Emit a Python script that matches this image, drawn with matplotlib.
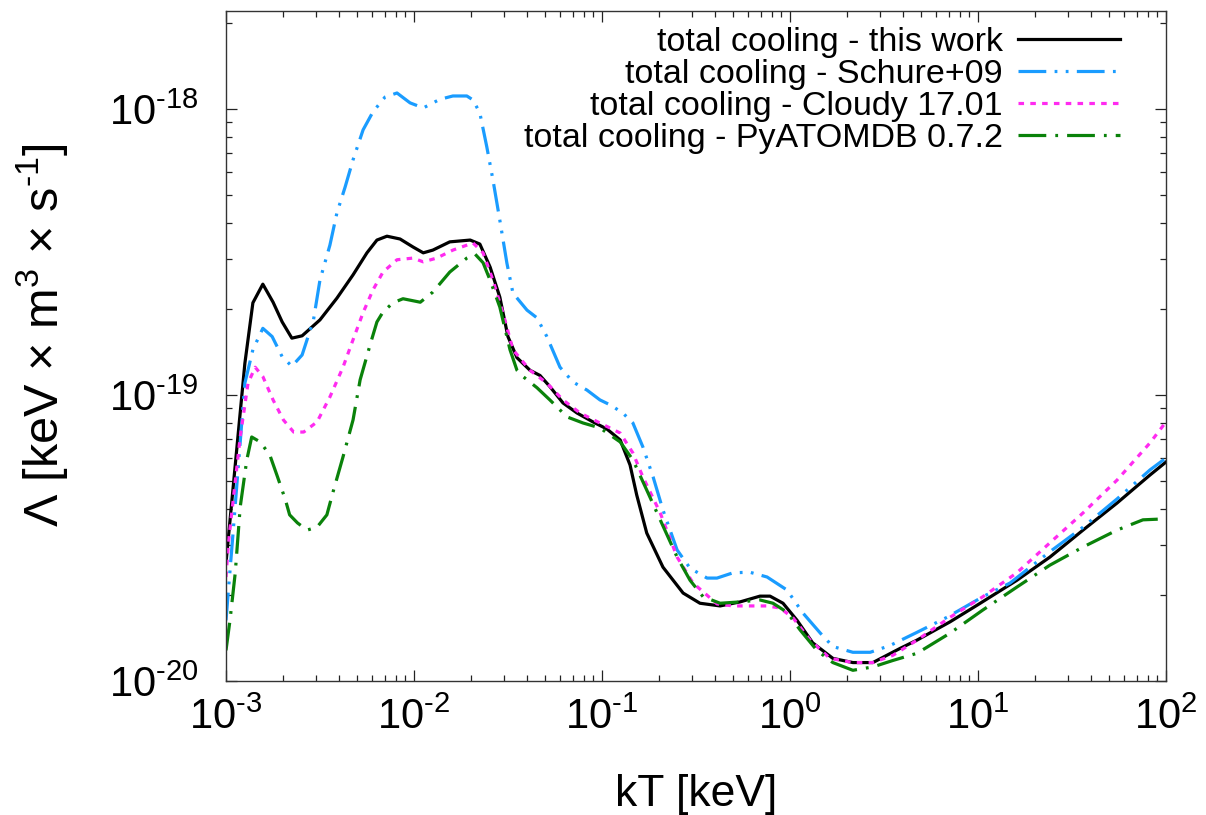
#!/usr/bin/env python3
"""Total cooling function comparison, redrawn as out.png."""

import matplotlib
matplotlib.use("Agg")
import matplotlib.pyplot as plt
from matplotlib.ticker import FixedLocator, FuncFormatter, LogLocator, NullFormatter
import numpy as np

plt.rcParams["font.family"] = ["Liberation Sans", "DejaVu Sans"]
plt.rcParams["mathtext.fontset"] = "custom"
plt.rcParams["mathtext.rm"] = "Liberation Sans"
plt.rcParams["mathtext.it"] = "Liberation Sans:italic"
plt.rcParams["lines.scale_dashes"] = False

UNIT = 1e-20  # Lambda values below are in units of 1e-20 keV m^3 s^-1

X_TICKS = [1e-3, 1e-2, 1e-1, 1e0, 1e1, 1e2]
Y_TICKS = [1e-20, 1e-19, 1e-18]

kt_this = [1.0e-3, 1.26e-3, 1.39e-3, 1.57e-3, 1.78e-3, 1.99e-3, 2.24e-3, 2.54e-3, 3.16e-3,
           3.89e-3, 4.74e-3, 5.62e-3, 6.35e-3, 7.18e-3, 8.43e-3, 9.89e-3, 1.12e-2, 1.26e-2,
           1.55e-2, 1.99e-2, 2.24e-2, 2.54e-2, 2.86e-2, 3.16e-2, 3.53e-2, 4.14e-2, 4.68e-2,
           5.28e-2, 6.20e-2, 7.36e-2, 8.95e-2, 0.106, 0.125, 0.141, 0.153, 0.173, 0.211,
           0.270, 0.332, 0.425, 0.542, 0.692, 0.783, 0.918, 1.09, 1.32, 1.69, 2.16, 2.76,
           3.85, 4.74, 7.10, 9.88, 16.1, 24.1, 36.2, 54.9, 82.2, 100.0]
lam_this = [2.59, 12.9, 21.0, 24.4, 21.1, 18.0, 15.8, 16.1, 18.3,
            21.8, 26.3, 31.4, 34.8, 35.9, 35.1, 32.9, 31.4, 32.1,
            34.3, 34.8, 33.7, 28.0, 22.0, 16.0, 13.5, 12.2, 11.7,
            10.7, 9.38, 8.65, 8.05, 7.61, 6.96, 5.69, 4.47, 3.29, 2.50,
            2.03, 1.87, 1.83, 1.89, 1.98, 1.98, 1.87, 1.63, 1.36, 1.20, 1.16, 1.16,
            1.30, 1.39, 1.61, 1.84, 2.25, 2.71, 3.37, 4.19, 5.25, 5.83]

kt_schure = [1.0e-3, 1.09e-3, 1.26e-3, 1.39e-3, 1.57e-3, 1.76e-3, 1.99e-3, 2.24e-3, 2.54e-3,
             2.92e-3, 3.16e-3, 3.57e-3, 3.89e-3, 4.30e-3, 4.74e-3, 5.36e-3, 6.05e-3, 7.01e-3,
             8.12e-3, 9.53e-3, 1.12e-2, 1.37e-2, 1.61e-2, 1.91e-2, 2.06e-2, 2.24e-2, 2.44e-2,
             2.63e-2, 2.86e-2, 3.12e-2, 3.36e-2, 3.99e-2, 4.51e-2, 5.09e-2, 5.98e-2, 7.01e-2,
             8.32e-2, 9.75e-2, 0.111, 0.129, 0.146, 0.165, 0.187, 0.211, 0.251, 0.294, 0.362,
             0.409, 0.498, 0.612, 0.755, 0.964, 1.17, 1.45, 1.69, 2.16, 2.67, 3.40, 4.74,
             6.84, 10.6, 14.8, 24.1, 36.2, 54.9, 82.2, 100.0]
lam_schure = [1.63, 3.29, 11.0, 14.4, 17.1, 16.0, 13.6, 12.6, 13.8,
              18.3, 25.2, 33.4, 43.3, 53.3, 66.4, 84.5, 97.7, 110.0,
              113.7, 105.0, 100.8, 108.0, 111.0, 111.0, 107.5, 96.8, 73.6,
              56.5, 40.9, 28.9, 22.7, 19.8, 18.6, 16.0, 12.5, 11.1,
              10.4, 9.61, 9.22, 8.65, 7.98, 6.58, 5.17, 3.96, 2.87, 2.48, 2.29,
              2.29, 2.39, 2.40, 2.31, 2.08, 1.73, 1.47, 1.32, 1.26, 1.26, 1.33, 1.48,
              1.67, 1.97, 2.20, 2.83, 3.45, 4.33, 5.47, 6.02]

kt_cloudy = [1.0e-3, 1.03e-3, 1.19e-3, 1.31e-3, 1.43e-3, 1.57e-3, 1.78e-3, 2.02e-3, 2.29e-3,
             2.59e-3, 3.05e-3, 3.57e-3, 4.19e-3, 4.74e-3, 5.36e-3, 6.05e-3, 6.84e-3, 8.12e-3,
             9.89e-3, 1.12e-2, 1.32e-2, 1.61e-2, 2.06e-2, 2.33e-2, 2.63e-2, 2.97e-2, 3.36e-2,
             4.14e-2, 5.09e-2, 6.20e-2, 7.64e-2, 9.75e-2, 0.125, 0.146, 0.165, 0.204, 0.251,
             0.305, 0.409, 0.498, 0.755, 0.885, 1.04, 1.28, 1.63, 2.16, 2.76, 3.53, 4.74,
             7.10, 10.6, 16.1, 24.1, 36.2, 54.9, 82.2, 100.0]
lam_cloudy = [2.31, 3.04, 7.13, 11.0, 12.5, 11.6, 9.61, 8.18, 7.42,
              7.42, 8.05, 9.84, 12.5, 15.6, 19.4, 23.3, 26.9, 29.7,
              30.1, 29.2, 30.1, 32.1, 34.0, 31.4, 25.2, 19.4, 14.4,
              12.2, 11.0, 9.61, 8.65, 7.98, 7.36, 6.27, 5.17, 3.87, 2.71,
              2.20, 1.86, 1.83, 1.83, 1.80, 1.66, 1.39, 1.20, 1.16, 1.16, 1.23, 1.39,
              1.67, 1.97, 2.39, 3.04, 3.87, 5.04, 6.80, 8.05]

kt_atomdb = [1.0e-3, 1.05e-3, 1.12e-3, 1.19e-3, 1.29e-3, 1.37e-3, 1.52e-3, 1.71e-3, 1.88e-3,
             2.07e-3, 2.18e-3, 2.40e-3, 2.70e-3, 3.05e-3, 3.44e-3, 3.71e-3, 4.19e-3, 4.74e-3,
             5.17e-3, 5.88e-3, 6.35e-3, 6.84e-3, 7.73e-3, 8.74e-3, 1.08e-2, 1.26e-2, 1.55e-2,
             1.91e-2, 2.11e-2, 2.33e-2, 2.54e-2, 2.86e-2, 3.24e-2, 3.53e-2, 3.80e-2, 4.51e-2,
             5.28e-2, 6.52e-2, 7.93e-2, 9.75e-2, 0.125, 0.146, 0.173, 0.204, 0.251, 0.294,
             0.345, 0.425, 0.542, 0.692, 0.812, 0.964, 1.13, 1.39, 1.69, 2.16, 2.76, 3.53,
             4.74, 7.10, 10.6, 16.1, 24.1, 36.2, 54.9, 75.4, 100.0]
lam_atomdb = [1.28, 1.63, 2.39, 4.06, 5.93, 7.13, 6.85, 6.17, 5.17,
              4.30, 3.81, 3.57, 3.37, 3.45, 3.81, 4.58, 6.07, 8.18,
              11.3, 15.2, 18.0, 19.5, 21.0, 21.7, 21.1, 22.9, 26.9,
              30.1, 31.1, 29.0, 25.2, 20.3, 14.4, 12.2, 11.6, 10.6,
              9.61, 8.38, 7.98, 7.67, 6.85, 5.93, 4.65, 3.66, 2.71, 2.25,
              1.97, 1.87, 1.89, 1.92, 1.87, 1.74, 1.51, 1.28, 1.16, 1.09, 1.12, 1.18,
              1.25, 1.47, 1.77, 2.13, 2.54, 2.94, 3.37, 3.66, 3.69]

SERIES = [
    ("total cooling - this work", kt_this, lam_this,
     dict(color="black", linestyle="-")),
    ("total cooling - Schure+09", kt_schure, lam_schure,
     dict(color="#1a9cff", linestyle=(0, (20, 6, 2, 6, 2, 6)))),
    ("total cooling - Cloudy 17.01", kt_cloudy, lam_cloudy,
     dict(color="#ff2bf0", linestyle=(0, (4, 4.5)))),
    ("total cooling - PyATOMDB 0.7.2", kt_atomdb, lam_atomdb,
     dict(color="#0a820a", linestyle=(0, (20, 6.5, 2, 6.5)))),
]


def power_label(value, pos):
    # gnuplot-like "10^-3" with a plain hyphen in the exponent
    exp = int(round(np.log10(value)))
    sign = r"\text{-}" if exp < 0 else ""
    return r"$10^{%s%d}$" % (sign, abs(exp))


def main():
    fig = plt.figure(figsize=(12.06, 8.15), dpi=100)
    ax = fig.add_axes([226 / 1206, 1 - 681 / 815, 940 / 1206, 670 / 815])

    for label, kt, lam, style in SERIES:
        ax.plot(kt, np.asarray(lam) * UNIT, linewidth=2.3, label=label, **style)

    ax.set_xscale("log")
    ax.set_yscale("log")
    ax.set_xlim(1e-3, 1e2)
    ax.set_ylim(1e-20, 2.2e-18)

    for axis, ticks in ((ax.xaxis, X_TICKS), (ax.yaxis, Y_TICKS)):
        axis.set_major_locator(FixedLocator(ticks))
        axis.set_major_formatter(FuncFormatter(power_label))
        axis.set_minor_locator(LogLocator(base=10, subs=np.arange(2, 10)))
        axis.set_minor_formatter(NullFormatter())

    ax.tick_params(which="both", direction="in", top=True, right=True, width=0.9, colors="#222222")
    ax.tick_params(which="major", length=8)
    ax.tick_params(which="minor", length=4.5)
    ax.tick_params(axis="x", which="major", labelsize=30, pad=12, labelcolor="black")
    ax.tick_params(axis="y", which="major", labelsize=30, pad=20, labelcolor="black")
    for spine in ax.spines.values():
        spine.set_linewidth(1.0)
        spine.set_color("#333333")

    ax.set_xlabel("kT [keV]", fontsize=32, labelpad=26)
    ax.set_ylabel(r"$\Lambda$ [keV $\times$ m$^3$ $\times$ s$^{\text{-}1}$]", fontsize=35)
    ax.yaxis.set_label_coords(-0.166, 0.516)

    ax.legend(loc="upper right", bbox_to_anchor=(1 - 46 / 940, 1 - 16 / 670), frameon=False,
              markerfirst=False, fontsize=24.5, handlelength=3.0, handletextpad=0.45,
              labelspacing=0.03, borderpad=0, borderaxespad=0)

    fig.savefig("out.png", dpi=100)
    plt.close(fig)


if __name__ == "__main__":
    main()
